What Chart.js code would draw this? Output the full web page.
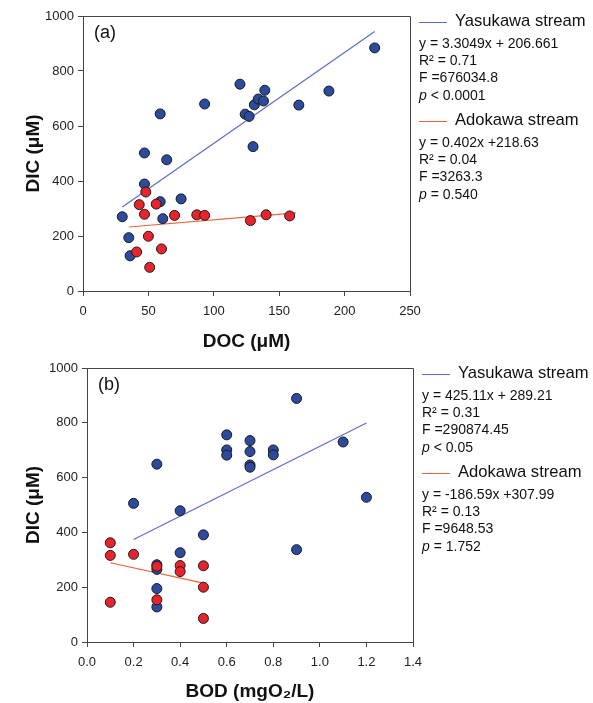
<!DOCTYPE html>
<html>
<head>
<meta charset="utf-8">
<script src="https://cdn.jsdelivr.net/npm/chart.js@4/dist/chart.umd.min.js"></script>
<style>
  html, body { margin: 0; padding: 0; background: #fff; }
  #wrap { position: relative; width: 593px; height: 703px; }
  canvas { position: absolute; left: 0; }
  #chart-a { top: 0; }
  #chart-b { top: 356px; }
</style>
</head>
<body>
<div id="wrap">
  <canvas id="chart-a" width="593" height="356"></canvas>
  <canvas id="chart-b" width="593" height="347"></canvas>
</div>
<script>
// (a) DIC against DOC
var docYasukawa = [30, 35, 36, 47, 47, 59, 59, 61, 64, 75, 93, 120, 124, 127, 130, 131, 134, 138, 139, 165, 188, 223];
var dicYasukawaA = [270, 194, 128, 389, 502, 644, 325, 263, 477, 335, 680, 752, 643, 635, 525, 677, 698, 691, 730, 676, 727, 884];
var docAdokawa = [48, 43, 56, 47, 70, 87, 93, 128, 140, 158, 50, 41, 60, 51];
var dicAdokawaA = [360, 314, 316, 279, 275, 277, 275, 256, 277, 273, 199, 142, 153, 86];

// (b) DIC against BOD
var bodYasukawa = [0.2, 0.3, 0.3, 0.3, 0.3, 0.3, 0.4, 0.4, 0.5, 0.6, 0.6, 0.6, 0.7, 0.7, 0.7, 0.7, 0.8, 0.8, 0.9, 0.9, 1.1, 1.2];
var dicYasukawaB = [506, 649, 282, 265, 195, 128, 479, 326, 391, 756, 701, 682, 735, 695, 646, 638, 701, 683, 889, 337, 730, 528];
var bodAdokawa = [0.1, 0.1, 0.1, 0.2, 0.3, 0.3, 0.4, 0.4, 0.5, 0.5, 0.5];
var dicAdokawaB = [362, 316, 145, 320, 276, 154, 279, 257, 278, 200, 86];

// regression lines: [slope, intercept, x from, x to]
var fitYasukawaA = [3.3049, 206.661, 30, 223];
var fitAdokawaA = [0.402, 218.63, 35, 163];
var fitYasukawaB = [425.11, 289.21, 0.2, 1.2];
var fitAdokawaB = [-186.59, 307.99, 0.1, 0.5];

var statsYasukawaA = ["y = 3.3049x + 206.661", "R\u00B2 = 0.71", "F =676034.8", "p < 0.0001"];
var statsAdokawaA = ["y = 0.402x +218.63", "R\u00B2 = 0.04", "F =3263.3", "p = 0.540"];
var statsYasukawaB = ["y = 425.11x + 289.21", "R\u00B2 = 0.31", "F =290874.45", "p < 0.05"];
var statsAdokawaB = ["y = -186.59x +307.99", "R\u00B2 = 0.13", "F =9648.53", "p = 1.752"];

var xTicksB = [0, 0.2, 0.4, 0.6, 0.8, 1.0, 1.2, 1.4];

var FONT = "Arial, 'Liberation Sans', sans-serif";
var BLUE = "#2d4b9e";
var RED = "#e8232b";
var BLUE_LINE = "#5a6cc8";
var RED_LINE = "#f0603c";

function points(xs, ys) {
    return xs.map(function (x, i) { return { x: x, y: ys[i] }; });
}

function fitLine(fit) {
    return [fit[2], fit[3]].map(function (x) {
        return { x: x, y: fit[0] * x + fit[1] };
    });
}

// frame, panel tag and the stats legend to the right of the plot
var panelExtras = {
    id: "panelExtras",
    afterDraw: function (chart, args, opts) {
        var ctx = chart.ctx;
        var a = chart.chartArea;
        ctx.save();
        ctx.strokeStyle = "#444";
        ctx.lineWidth = 1;
        ctx.beginPath();
        ctx.moveTo(a.left, Math.round(a.top) + 0.5);
        ctx.lineTo(Math.round(a.right) + 0.5, Math.round(a.top) + 0.5);
        ctx.lineTo(Math.round(a.right) + 0.5, a.bottom);
        ctx.stroke();

        ctx.fillStyle = "#111";
        ctx.textBaseline = "middle";
        ctx.textAlign = "left";
        ctx.font = "18px " + FONT;
        ctx.fillText(opts.tag, a.left + 11, a.top + 17);

        var rows = [5.5, 28, 45, 62.5, 80];
        opts.blocks.forEach(function (b, bi) {
            var y0 = a.top + bi * 99;
            var ly = Math.round(y0 + rows[0]) + 0.5;
            ctx.strokeStyle = b.color;
            ctx.beginPath();
            ctx.moveTo(a.right + 9, ly);
            ctx.lineTo(a.right + 37, ly);
            ctx.stroke();
            ctx.fillStyle = "#111";
            ctx.font = "16.6px " + FONT;
            ctx.fillText(b.name, a.right + 45, y0 + rows[0]);
            b.lines.forEach(function (t, i) {
                var y = y0 + rows[i + 1];
                var x = a.right + 9;
                if (t.indexOf("p ") === 0) {
                    ctx.font = "italic 14px " + FONT;
                    ctx.fillText("p", x, y);
                    x += ctx.measureText("p").width;
                    t = t.slice(1);
                }
                ctx.font = "14px " + FONT;
                ctx.fillText(t, x, y);
            });
        });
        ctx.restore();
    }
};

function makeChart(id, cfg) {
    return new Chart(document.getElementById(id), {
        type: "scatter",
        data: {
            datasets: [
                {
                    data: points(cfg.redX, cfg.redY),
                    backgroundColor: RED,
                    borderColor: "#1a1a1a",
                    borderWidth: 1,
                    pointRadius: 5,
                    order: 0,
                },
                {
                    data: points(cfg.blueX, cfg.blueY),
                    backgroundColor: BLUE,
                    borderColor: "#1a1a1a",
                    borderWidth: 1,
                    pointRadius: 5,
                    order: 1,
                },
                {
                    type: "line",
                    data: fitLine(cfg.blueFit),
                    borderColor: BLUE_LINE,
                    borderWidth: 1.2,
                    pointRadius: 0,
                    order: 2,
                },
                {
                    type: "line",
                    data: fitLine(cfg.redFit),
                    borderColor: RED_LINE,
                    borderWidth: 1.2,
                    pointRadius: 0,
                    order: 3,
                },
            ],
        },
        options: {
            responsive: false,
            animation: false,
            events: [],
            layout: { padding: cfg.padding },
            scales: {
                x: {
                    type: "linear",
                    min: 0,
                    max: cfg.xMax,
                    afterFit: function (s) { s.height = cfg.xHeight; },
                    afterBuildTicks: cfg.xTicks ? function (s) {
                        s.ticks = cfg.xTicks.map(function (v) { return { value: v }; });
                    } : undefined,
                    ticks: {
                        stepSize: cfg.xStep,
                        color: "#222",
                        padding: 8,
                        maxRotation: 0,
                        font: { family: FONT, size: 13 },
                        callback: cfg.xFormat || function (v) { return String(v); },
                    },
                    grid: { drawOnChartArea: false, tickLength: 5, color: "#444" },
                    border: { color: "#444" },
                    title: {
                        display: true,
                        text: cfg.xTitle,
                        color: "#111",
                        font: { family: FONT, size: 19, weight: "bold" },
                        padding: { top: 0, bottom: cfg.xTitlePad },
                    },
                },
                y: {
                    min: 0,
                    max: 1000,
                    afterFit: function (s) { s.width = cfg.yWidth; },
                    ticks: {
                        stepSize: 200,
                        color: "#222",
                        padding: 4,
                        font: { family: FONT, size: 13 },
                        callback: function (v) { return String(v); },
                    },
                    grid: { drawOnChartArea: false, tickLength: 5, color: "#444" },
                    border: { color: "#444" },
                    title: {
                        display: true,
                        text: "DIC (\u03BCM)",
                        color: "#111",
                        font: { family: FONT, size: 19, weight: "bold" },
                        padding: { top: 22, bottom: 0 },
                    },
                },
            },
            plugins: {
                legend: { display: false },
                tooltip: { enabled: false },
                panelExtras: {
                    tag: cfg.tag,
                    blocks: [
                        { name: "Yasukawa stream", color: BLUE_LINE, lines: cfg.blueStats },
                        { name: "Adokawa stream", color: RED_LINE, lines: cfg.redStats },
                    ],
                },
            },
        },
        plugins: [panelExtras],
    });
}

makeChart("chart-a", {
    tag: "(a)",
    blueX: docYasukawa, blueY: dicYasukawaA,
    redX: docAdokawa, redY: dicAdokawaA,
    blueFit: fitYasukawaA, redFit: fitAdokawaA,
    blueStats: statsYasukawaA, redStats: statsAdokawaA,
    xMax: 250, xStep: 50,
    xTitle: "DOC (\u03BCM)", xTitlePad: 3,
    padding: { top: 16, right: 183, left: 0, bottom: 0 },
    xHeight: 65, yWidth: 83,
});

makeChart("chart-b", {
    tag: "(b)",
    blueX: bodYasukawa, blueY: dicYasukawaB,
    redX: bodAdokawa, redY: dicAdokawaB,
    blueFit: fitYasukawaB, redFit: fitAdokawaB,
    blueStats: statsYasukawaB, redStats: statsAdokawaB,
    xMax: 1.4, xStep: 0.2, xTicks: xTicksB,
    xFormat: function (v) { return Number(v).toFixed(1); },
    xTitle: "BOD (mgO\u2082/L)", xTitlePad: 0,
    padding: { top: 12, right: 180, left: 0, bottom: 0 },
    xHeight: 61, yWidth: 87,
});
</script>
</body>
</html>
